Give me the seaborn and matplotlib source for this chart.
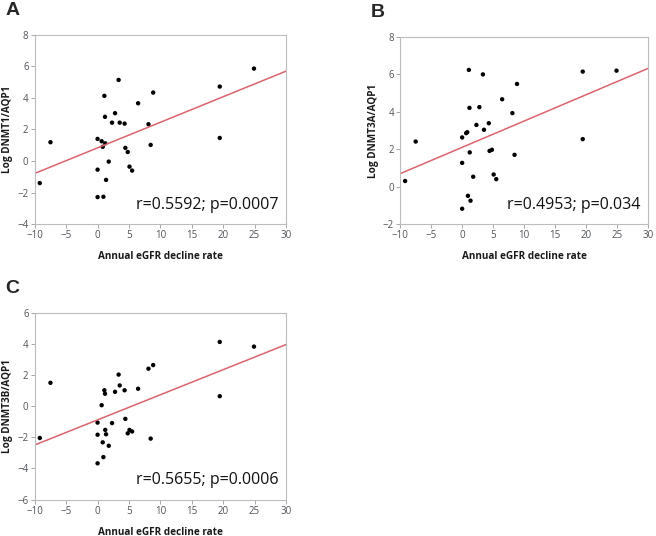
import matplotlib
matplotlib.use("Agg")
import matplotlib.pyplot as plt
import numpy as np
import pandas as pd
import seaborn as sns

# annual eGFR decline rate (shared by all panels)
egfr_decline = [-9.2, -7.5, 0.0, 0.0, 0.0, 0.65, 0.82, 0.93, 1.08, 1.18, 1.22, 1.35, 1.78,
                2.3, 2.78, 3.35, 3.52, 4.3, 4.42, 4.8, 5.08, 5.5, 6.45, 8.1, 8.45, 8.85,
                19.45, 19.45, 24.9]

log_dnmt1 = [-1.4, 1.19, 1.4, -0.55, -2.29, 1.25, 0.9, -2.27, 4.13, 2.8, 1.12, -1.2, -0.04,
             2.43, 3.03, 5.14, 2.43, 2.37, 0.83, 0.57, -0.36, -0.61, 3.66, 2.33, 1.02, 4.34,
             4.72, 1.46, 5.86]

log_dnmt3a = [0.30, 2.41, 2.63, 1.27, -1.18, 2.86, 2.91, -0.49, 6.24, 4.21, 1.83, -0.75, 0.53,
              3.30, 4.25, 6.0, 3.04, 3.39, 1.91, 1.97, 0.65, 0.40, 4.67, 3.93, 1.70, 5.49,
              6.15, 2.54, 6.20]

log_dnmt3b = [-2.04, 1.51, -1.05, -1.83, -3.67, 0.07, -2.32, -3.27, 1.03, 0.81, -1.52, -1.8,
              -2.54, -1.08, 0.93, 2.04, 1.34, 1.03, -0.81, -1.74, -1.52, -1.62, 1.13, 2.42,
              -2.08, 2.65, 4.14, 0.65, 3.84]

panels = [
    ("A", "Log DNMT1/AQP1", log_dnmt1, (-4, 8), "r=0.5592; p=0.0007", [0.053, 0.582, 0.383, 0.353]),
    ("B", "Log DNMT3A/AQP1", log_dnmt3a, (-2, 8), "r=0.4953; p=0.034", [0.610, 0.582, 0.378, 0.349]),
    ("C", "Log DNMT3B/AQP1", log_dnmt3b, (-6, 6), "r=0.5655; p=0.0006", [0.053, 0.068, 0.383, 0.348]),
]

sns.set_style("white")
plt.rcParams["font.family"] = ["Open Sans", "DejaVu Sans"]

fig = plt.figure(figsize=(6.56, 5.36), dpi=100)

for letter, ylabel, yvals, ylim, stat_text, rect in panels:
    df = pd.DataFrame({"x": egfr_decline, "y": yvals})
    ax = fig.add_axes(rect)
    ax.set_xlim(-10, 30)
    ax.set_ylim(*ylim)
    sns.regplot(data=df, x="x", y="y", ax=ax, scatter=False, ci=None, truncate=False,
                line_kws={"color": "#d9646e", "lw": 1.1})
    sns.scatterplot(data=df, x="x", y="y", ax=ax, color="black", s=10, edgecolor="none")
    ax.set_xlim(-10, 30)
    ax.set_ylim(*ylim)
    ax.set_xticks(range(-10, 31, 5))
    ax.set_yticks(range(ylim[0], ylim[1] + 1, 2))
    for sp in ax.spines.values():
        sp.set_color("#bcbcbc")
        sp.set_linewidth(0.8)
    ax.tick_params(axis="both", direction="out", length=3, width=0.6, color="#999999",
                   labelsize=7, labelcolor="#4f5358", pad=1.5)
    ax.tick_params(left=True, bottom=True)
    ax.set_xlabel("Annual eGFR decline rate", fontsize=7.2, fontweight="bold",
                  color="#1a1a1a", labelpad=7)
    ax.set_ylabel(ylabel, fontsize=7.2, fontweight="bold", color="#1a1a1a", labelpad=3)
    ax.text(0.97, 0.06, stat_text, transform=ax.transAxes, ha="right", va="bottom",
            fontsize=11.5, color="#111111")
    # panel letter
    pos = ax.get_position()
    fig.text(pos.x0 - 0.045, pos.y1 + 0.03, letter, fontsize=14, fontweight="bold",
             family="Liberation Sans", ha="left", va="bottom")

fig.savefig("out.png", dpi=100)
